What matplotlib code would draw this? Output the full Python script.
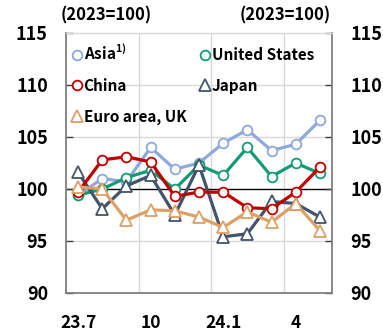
import matplotlib
matplotlib.use("Agg")
import matplotlib.pyplot as plt
import numpy as np

plt.rcParams['font.family'] = ['Noto Sans CJK KR', 'DejaVu Sans']

months = ["23.7", "8", "9", "10", "11", "12", "24.1", "2", "3", "4", "5"]
tick_labels = ["23.7", "10", "24.1", "4"]
tick_idx = [0, 3, 6, 9]

asia = [99.4, 101.0, 100.7, 104.0, 101.9, 102.5, 104.4, 105.7, 103.7, 104.3, 106.6]
united_states = [99.4, 100.0, 101.1, 101.8, 100.0, 102.3, 101.3, 104.0, 101.2, 102.5, 101.5]
china = [99.7, 102.8, 103.1, 102.6, 99.3, 99.7, 99.7, 98.2, 98.1, 99.7, 102.1]
japan = [101.6, 98.1, 100.3, 101.3, 97.5, 102.3, 95.4, 95.7, 98.8, 98.6, 97.3]
euro_uk = [100.2, 100.0, 97.0, 98.0, 97.9, 97.3, 96.3, 97.8, 96.8, 98.6, 96.0]

fig = plt.figure(figsize=(3.83, 3.34), dpi=100)
ax = fig.add_axes([66/383, 1-293/334, 266/383, 260/334])

x = np.arange(len(months))
lw = 2.3
ms = 7
mew = 1.3

series = [
    ("Asia$^{\\mathregular{1)}}$", asia, "#8FA9DC", "o", 2),
    ("China", china, "#C00000", "o", 5),
    ("Euro area, UK", euro_uk, "#DDA066", "^", 6),
    ("United States", united_states, "#159A78", "o", 3),
    ("Japan", japan, "#44546A", "^", 4),
]
handles = []
for label, vals, color, mk, zo in series:
    h, = ax.plot(x, vals, color=color, lw=lw, marker=mk, ms=ms if mk == "o" else ms + 1.5,
                 mfc="white", mec=color, mew=mew, label=label, zorder=zo)
    handles.append(h)

ax.axhline(100, color="black", lw=1.0, zorder=1.5)

ax.set_xlim(-0.5, len(months) - 0.5)
ax.set_ylim(90, 115)
ax.set_yticks([90, 95, 100, 105, 110, 115])
ax.set_xticks(tick_idx)
ax.set_xticklabels(tick_labels)
for xv in [2.5, 5.5, 8.5]:
    ax.axvline(xv, color="#D9D9D9", lw=1.0, zorder=0)
for yv in [95, 105, 110]:
    ax.axhline(yv, color="#D9D9D9", lw=1.0, zorder=0)

for side in ["left", "bottom", "right"]:
    ax.spines[side].set_color("#7F7F7F")
    ax.spines[side].set_linewidth(1.3)
ax.spines["top"].set_color("#D9D9D9")
ax.spines["top"].set_linewidth(1.0)

ax.tick_params(axis="y", direction="in", length=5, width=1.0, color="#404040",
               left=True, right=True, labelleft=True, labelright=True,
               labelsize=13, pad=13)
ax.tick_params(axis="x", length=0, labelsize=12.5, pad=15)
for lab in ax.get_xticklabels() + ax.get_yticklabels():
    lab.set_fontweight("bold")
for tick in ax.yaxis.get_major_ticks():
    tick.label2.set_fontweight("bold")

fig.text(106/383, 1-15/334, "(2023=100)", ha="center", va="center", fontsize=12, fontweight="bold")
fig.text(285/383, 1-15/334, "(2023=100)", ha="center", va="center", fontsize=12, fontweight="bold")

leg = ax.legend(handles=handles, ncol=2, loc="upper left", bbox_to_anchor=(0.0, 0.985),
                frameon=False, prop={"weight": "bold", "size": 11},
                handlelength=0.65, handletextpad=0.1, columnspacing=0.9,
                labelspacing=0.95, borderaxespad=0.0)
for line in leg.get_lines():
    line.set_linewidth(0)

fig.savefig("out.png", dpi=100)
